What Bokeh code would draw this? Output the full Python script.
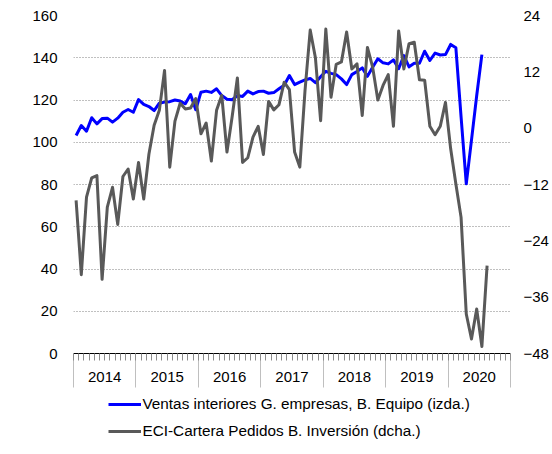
from bokeh.plotting import figure
from bokeh.layouts import column
from bokeh.models import Range1d, LinearAxis, FixedTicker, Legend, LegendItem, ColumnDataSource
from bokeh.embed import file_html
from bokeh.resources import INLINE

# ---- data (monthly, Jan 2014 onwards) ----
years = [2014, 2015, 2016, 2017, 2018, 2019, 2020]
ventas = [103.2, 107.9, 105.2, 111.6, 108.7, 111.2, 111.4, 109.5, 111.4, 114.2, 115.5, 114.2,
          120.2, 117.9, 116.9, 115.0, 118.5, 119.0, 119.2, 120.0, 119.5, 118.2, 122.6, 115.4,
          123.7, 124.2, 123.6, 125.3, 122.1, 120.4, 120.1, 122.1, 121.7, 124.2, 122.9, 124.0,
          124.2, 123.2, 123.5, 125.3, 127.0, 131.6, 127.3, 128.5, 129.5, 130.2, 128.2, 131.0,
          133.6, 132.6, 132.0, 130.0, 127.3, 132.0, 133.5, 135.2, 131.2, 135.5, 139.5, 137.6,
          137.1, 139.0, 134.8, 141.0, 135.7, 137.4, 137.4, 143.1, 138.7, 142.2, 141.3, 141.5,
          146.3, 144.7, 112.0, 80.3, 101.0, 122.0, 141.5]
eci = [-15.4, -31.2, -14.7, -10.6, -10.1, -32.2, -16.8, -12.6, -20.5, -10.3, -8.7, -15.1,
       -7.3, -15.1, -5.5, 0.6, 3.8, 12.3, -8.3, 1.5, 5.3, 4.1, 4.3, 6.3,
       -1.2, 1.1, -7.0, 3.8, 7.0, -5.1, 2.5, 10.7, -7.3, -6.3, -1.9, 0.4,
       -5.6, 5.7, 3.9, 5.0, 9.8, 8.2, -5.1, -8.3, 8.0, 20.9, 15.0, 1.6,
       21.1, 6.6, 13.6, 14.1, 20.5, 12.6, 13.7, 2.7, 17.2, 13.0, 6.0, 9.1,
       11.4, 0.4, 20.7, 12.6, 18.0, 18.3, 10.3, 10.2, 0.4, -1.4, 0.4, 5.5,
       -4.4, -11.9, -19.0, -39.6, -44.9, -38.5, -46.5, -29.3]
left_ticks = [0, 20, 40, 60, 80, 100, 120, 140, 160]
right_ticks = [-48, -36, -24, -12, 0, 12, 24]
label_ventas = "Ventas interiores G. empresas, B. Equipo (izda.)"
label_eci = "ECI-Cartera Pedidos B. Inversión (dcha.)"

n_months = 12 * len(years)
FONT = "Liberation Sans"
BLUE = "#0000FF"
GREY = "#595959"

p = figure(frame_width=437, frame_height=338,
           x_range=Range1d(0, n_months), y_range=Range1d(0, 160),
           x_axis_location=None, y_axis_location=None,
           output_backend="svg", toolbar_location=None,
           min_border_left=73, min_border_top=15, min_border_right=30, min_border_bottom=41)
p.extra_y_ranges = {"right": Range1d(-48, 24)}
p.outline_line_color = None
p.background_fill_color = "white"
p.border_fill_color = "white"

p.xgrid.grid_line_color = None
p.ygrid.ticker = FixedTicker(ticks=[t for t in left_ticks if t > 0])
p.ygrid.grid_line_color = "#808080"
p.ygrid.grid_line_dash = "1 2"
p.ygrid.grid_line_width = 1

src_v = ColumnDataSource(dict(x=[i + 0.5 for i in range(len(ventas))], y=ventas))
src_e = ColumnDataSource(dict(x=[i + 0.5 for i in range(len(eci))], y=eci))

p.line("x", "y", source=src_v, line_color=BLUE, line_width=3, line_join="round")
p.line("x", "y", source=src_e, line_color=GREY, line_width=3, line_join="round",
       y_range_name="right")

# left axis
yl = LinearAxis(ticker=FixedTicker(ticks=left_ticks), axis_line_color=None,
                major_tick_line_color=None, minor_tick_line_color=None,
                major_tick_out=0, major_tick_in=0, minor_tick_out=0,
                major_label_standoff=16,
                major_label_text_font_size="15px", major_label_text_font=FONT,
                major_label_text_color="#000000")
p.add_layout(yl, "left")

# right axis
yr = LinearAxis(y_range_name="right", ticker=FixedTicker(ticks=right_ticks), axis_line_color=None,
                major_tick_line_color=None, minor_tick_line_color=None,
                major_tick_out=0, major_tick_in=0, minor_tick_out=0,
                major_label_standoff=13,
                major_label_text_font_size="15px", major_label_text_font=FONT,
                major_label_text_color="#000000")
p.add_layout(yr, "right")

# x axis: month ticks + year separators (no labels of its own)
year_edges = [12 * i for i in range(len(years) + 1)]
month_edges = list(range(n_months + 1))
xa = LinearAxis(ticker=FixedTicker(ticks=year_edges, minor_ticks=month_edges),
                axis_line_color="#000000", axis_line_width=1,
                major_tick_out=34, major_tick_in=0, major_tick_line_color="#bfbfbf",
                minor_tick_out=7, minor_tick_in=0, minor_tick_line_color="#8c8c8c",
                major_label_text_font_size="1px", major_label_text_color=None,
                major_label_standoff=0)
p.add_layout(xa, "below")

# x axis: year labels centred in each year
year_centers = [12 * i + 6 for i in range(len(years))]
xb = LinearAxis(ticker=FixedTicker(ticks=year_centers),
                major_label_overrides={c: str(y) for c, y in zip(year_centers, years)},
                axis_line_color=None, major_tick_line_color=None, minor_tick_line_color=None,
                major_tick_out=0, major_tick_in=0, minor_tick_out=0, major_label_standoff=-16,
                major_label_text_font_size="15px", major_label_text_font=FONT,
                major_label_text_color="#000000")
p.add_layout(xb, "below")

# ---- legend strip below the chart ----
lf = figure(frame_width=437, frame_height=60, x_range=Range1d(0, 1), y_range=Range1d(0, 1),
            x_axis_location=None, y_axis_location=None,
            output_backend="svg", toolbar_location=None,
            min_border_left=73, min_border_right=30, min_border_top=0, min_border_bottom=0)
lf.outline_line_color = None
lf.xgrid.visible = False
lf.ygrid.visible = False
nan = float("nan")
lv = lf.line(x=[nan], y=[nan], line_color=BLUE, line_width=3)
le = lf.line(x=[nan], y=[nan], line_color=GREY, line_width=3)

legend = Legend(items=[LegendItem(label=label_ventas, renderers=[lv]),
                       LegendItem(label=label_eci, renderers=[le])],
                location="top_center", orientation="vertical",
                glyph_width=33, glyph_height=20, label_height=20, label_width=333,
                label_standoff=2, spacing=7, padding=4, margin=0,
                border_line_color=None, background_fill_alpha=0,
                label_text_font_size="15.3px", label_text_font=FONT, label_text_color="#000000")
lf.add_layout(legend, "center")

layout = column(p, lf, spacing=0)
open("out.html", "w").write(file_html(layout, INLINE))
